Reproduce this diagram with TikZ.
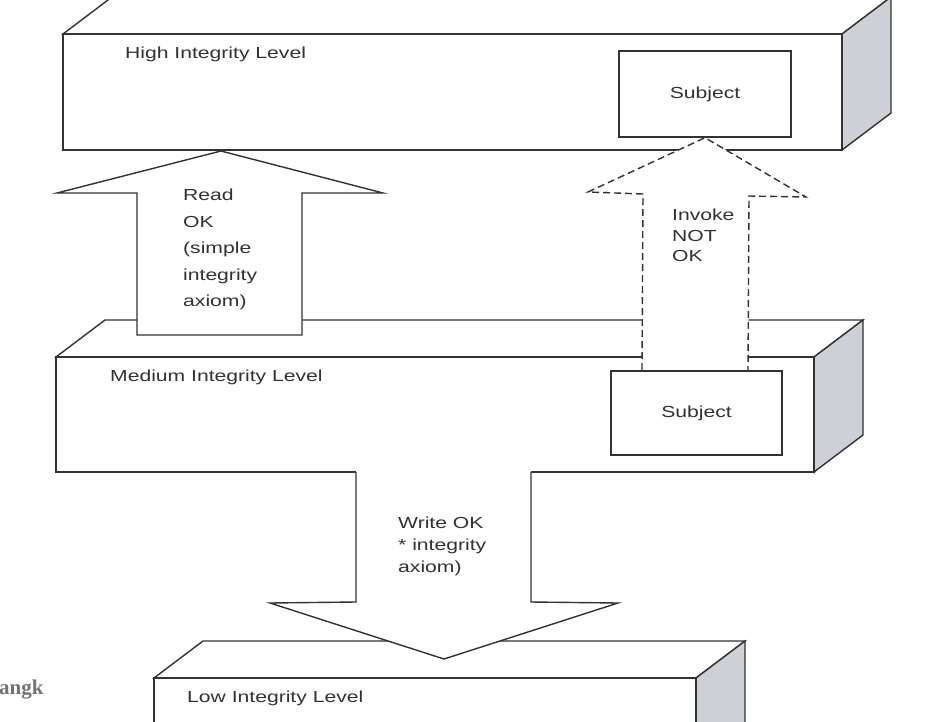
\documentclass[tikz,border=0pt]{standalone}
\usepackage{fontspec}
\usetikzlibrary{calc}
\newfontfamily\lblfont[FakeStretch=1.32]{Liberation Sans}
\newfontfamily\wmfont{Liberation Serif}
\definecolor{sidegray}{RGB}{205,208,215}
\definecolor{ink}{RGB}{50,50,50}
\begin{document}
\begin{tikzpicture}[x=1pt,y=-1pt,
  edge/.style={draw=ink,line width=1.4pt,line join=miter},
  frontface/.style={edge,fill=white},
  sideface/.style={edge,fill=sidegray},
  dasharrow/.style={draw=ink,line width=1.4pt,dash pattern=on 7pt off 4pt},
  lbl/.style={font=\lblfont\fontsize{16}{18}\selectfont,text=ink,inner sep=0pt},
  multi/.style={lbl,align=left,anchor=north west}]
\useasboundingbox (0,0) rectangle (930,721);
\clip (0,0) rectangle (930,721);
\fill[white] (0,0) rectangle (930,721);

% ---------- High integrity level box ----------
\coordinate (hA) at (63,34);  \coordinate (hB) at (842,34);
\coordinate (hC) at (842,150); \coordinate (hD) at (63,150);
\path[frontface] (hA) -- ++(49,-37) -- ($(hB)+(49,-37)$) -- (hB) -- cycle;
\path[sideface] (hB) -- ++(49,-37) -- ($(hC)+(49,-37)$) -- (hC) -- cycle;
\path[frontface] (hA) rectangle (hC);
\node[lbl,anchor=west] (hlabel) at (125,54) {High Integrity Level};
\node[edge,fill=white,minimum width=172pt,minimum height=86pt,inner sep=0pt,
      font=\lblfont\fontsize{16}{18}\selectfont,text=ink] (hsubj) at (705,94) {Subject};

% ---------- Medium integrity level box ----------
\coordinate (mA) at (56,357);  \coordinate (mB) at (814,357);
\coordinate (mC) at (814,472); \coordinate (mD) at (56,472);
\path[frontface] (mA) -- ++(49,-37) -- ($(mB)+(49,-37)$) -- (mB) -- cycle;
\path[sideface] (mB) -- ++(49,-37) -- ($(mC)+(49,-37)$) -- (mC) -- cycle;
\path[frontface] (mA) rectangle (mC);
\node[lbl,anchor=west] (mlabel) at (110,377) {Medium Integrity Level};

% ---------- Low integrity level box ----------
\coordinate (lA) at (154,678);  \coordinate (lB) at (696,678);
\coordinate (lC) at (696,760);  \coordinate (lD) at (154,760);
\path[frontface] (lA) -- ++(49,-37) -- ($(lB)+(49,-37)$) -- (lB) -- cycle;
\path[sideface] (lB) -- ++(49,-37) -- ($(lC)+(49,-37)$) -- (lC) -- cycle;
\path[frontface] (lA) rectangle (lC);
\node[lbl,anchor=west] (llabel) at (187,698) {Low Integrity Level};

% ---------- Read OK arrow (solid) ----------
\path[edge,fill=white] (137,335) -- (137,193) -- (57,193) -- (221,151)
  -- (383,193) -- (302,193) -- (302,335) -- cycle;
\node[multi,font=\lblfont\fontsize{16}{26.5}\selectfont] (readtxt) at (183,189)
  {Read\\OK\\(simple\\integrity\\axiom)};

% ---------- Invoke NOT OK arrow (dashed) ----------
\fill[white] (642,371) -- (643,194) -- (588,192) -- (hsubj.south)
  -- (806,197) -- (749,196) -- (748,371) -- cycle;
\draw[dasharrow] (642,370) -- (643,194) -- (588,192) -- (hsubj.south)
  -- (806,197) -- (749,196) -- (748,370);
\node[multi,font=\lblfont\fontsize{16}{20.5}\selectfont] (invtxt) at (672,209)
  {Invoke\\NOT\\OK};
\node[edge,fill=white,minimum width=171pt,minimum height=84pt,inner sep=0pt,
      font=\lblfont\fontsize{16}{18}\selectfont,text=ink] (msubj) at (696.5,413) {Subject};

% ---------- Write OK arrow (solid, downward) ----------
\fill[white] (356,471) -- (356,602) -- (270,603) -- (444,659)
  -- (618,603) -- (531,602) -- (531,471) -- cycle;
\draw[edge] (356,472) -- (356,602) -- (270,603) -- (444,659)
  -- (618,603) -- (531,602) -- (531,472);
\node[multi,font=\lblfont\fontsize{16}{22}\selectfont] (writetxt) at (398,517)
  {Write OK\\* integrity\\axiom)};

% ---------- watermark fragment ----------
\node[anchor=base west,inner sep=0pt,text={rgb,255:red,115;green,115;blue,115},
      font=\wmfont\bfseries\fontsize{21}{21}\selectfont] (wm) at (-1,694) {angk};
\end{tikzpicture}
\end{document}
